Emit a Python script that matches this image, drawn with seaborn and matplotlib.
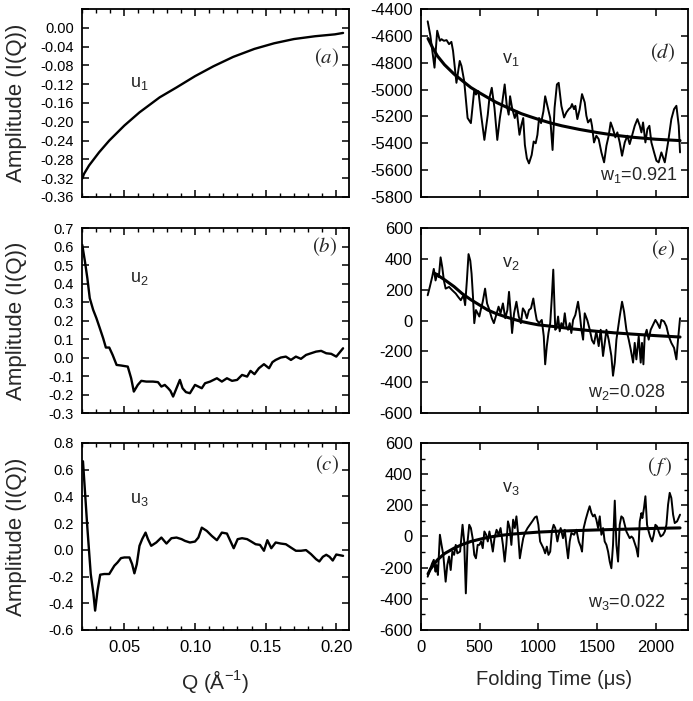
import matplotlib
matplotlib.use("Agg")
import matplotlib.pyplot as plt
import seaborn as sns
from matplotlib.ticker import MultipleLocator, FormatStrFormatter, FuncFormatter

# ---------------- data ----------------
# Left column: basis spectra vs Q
q_u1 = [0.0202, 0.0214, 0.0250, 0.0321, 0.0393, 0.0500, 0.0607, 0.0750, 0.0869, 0.1000,
        0.1130, 0.1270, 0.1420, 0.1560, 0.1700, 0.1850, 0.1990, 0.2048]
u1 = [-0.321, -0.311, -0.293, -0.265, -0.240, -0.208, -0.180, -0.148, -0.127, -0.103,
      -0.082, -0.062, -0.045, -0.033, -0.024, -0.018, -0.014, -0.011]

q_u2 = [0.0202, 0.0221, 0.0238, 0.0255, 0.0279, 0.0302, 0.0326, 0.0350, 0.0369, 0.0393,
        0.0417, 0.0445, 0.0476, 0.0524, 0.0548, 0.0567, 0.0595, 0.0620, 0.0655, 0.0702,
        0.0738, 0.0762, 0.0786, 0.0810, 0.0826, 0.0845, 0.0869, 0.0893, 0.0912, 0.0936,
        0.0964, 0.1000, 0.1024, 0.1048, 0.1071, 0.1107, 0.1155, 0.1190, 0.1226, 0.1262,
        0.1298, 0.1333, 0.1369, 0.1393, 0.1421, 0.1452, 0.1488, 0.1524, 0.1548, 0.1571,
        0.1607, 0.1643, 0.1679, 0.1714, 0.1750, 0.1786, 0.1821, 0.1857, 0.1893, 0.1929,
        0.1964, 0.2000, 0.2048]
u2 = [0.609, 0.519, 0.429, 0.321, 0.258, 0.213, 0.159, 0.104, 0.054, 0.054,
      0.014, -0.040, -0.043, -0.049, -0.112, -0.184, -0.148, -0.126, -0.130, -0.130,
      -0.133, -0.157, -0.148, -0.166, -0.180, -0.211, -0.166, -0.121, -0.166, -0.187,
      -0.193, -0.148, -0.157, -0.166, -0.139, -0.130, -0.112, -0.130, -0.112, -0.126,
      -0.121, -0.094, -0.103, -0.072, -0.090, -0.058, -0.036, -0.058, -0.025, -0.013,
      0.000, 0.005, -0.013, 0.005, -0.007, 0.014, 0.023, 0.032, 0.036, 0.023,
      0.020, 0.005, 0.050]

q_u3 = [0.0207, 0.0221, 0.0238, 0.0262, 0.0281, 0.0293, 0.0310, 0.0329, 0.0357, 0.0393,
        0.0429, 0.0452, 0.0476, 0.0500, 0.0536, 0.0555, 0.0571, 0.0588, 0.0607, 0.0626,
        0.0650, 0.0667, 0.0690, 0.0726, 0.0762, 0.0798, 0.0833, 0.0869, 0.0905, 0.0929,
        0.0964, 0.1000, 0.1024, 0.1048, 0.1083, 0.1119, 0.1155, 0.1190, 0.1226, 0.1250,
        0.1274, 0.1302, 0.1333, 0.1369, 0.1398, 0.1429, 0.1460, 0.1488, 0.1512, 0.1540,
        0.1571, 0.1607, 0.1643, 0.1679, 0.1714, 0.1750, 0.1786, 0.1821, 0.1857, 0.1880,
        0.1905, 0.1929, 0.1952, 0.1975, 0.2000, 0.2048]
u3 = [0.663, 0.440, 0.166, -0.181, -0.330, -0.455, -0.306, -0.186, -0.181, -0.181,
      -0.119, -0.094, -0.062, -0.057, -0.057, -0.107, -0.176, -0.107, 0.030, 0.080,
      0.129, 0.080, 0.030, 0.055, 0.092, 0.047, 0.087, 0.092, 0.080, 0.067,
      0.055, 0.062, 0.092, 0.166, 0.142, 0.104, 0.072, 0.129, 0.122, 0.067,
      0.012, 0.080, 0.087, 0.080, 0.062, 0.042, 0.037, -0.007, 0.072, 0.012,
      0.055, 0.047, 0.042, 0.017, -0.007, -0.007, -0.002, -0.032, -0.070, -0.087,
      -0.052, -0.037, -0.052, -0.080, -0.035, -0.045]

# Right column: amplitude vectors vs folding time (us)
t_v1 = [57, 80, 115, 138, 161, 175, 195, 218, 239, 259, 273, 302, 330, 345, 368, 397, 425,
        454, 468, 489, 512, 540, 569, 583, 603, 626, 650, 672, 690, 713, 730, 747, 759, 776,
        799, 816, 839, 856, 871, 885, 902, 920, 943, 960, 977, 992, 1006, 1023, 1043, 1058,
        1081, 1101, 1121, 1138, 1158, 1173, 1196, 1219, 1239, 1259, 1276, 1287, 1304, 1315,
        1332, 1352, 1372, 1395, 1409, 1423, 1446, 1457, 1474, 1494, 1514, 1537, 1560, 1580,
        1599, 1616, 1636, 1656, 1673, 1693, 1713, 1736, 1758, 1778, 1798, 1821, 1844, 1864,
        1878, 1892, 1912, 1929, 1946, 1963, 1986, 2006, 2025, 2048, 2077, 2105, 2133, 2156,
        2176, 2196, 2207]
v1 = [-4492, -4600, -4837, -4562, -4637, -4625, -4637, -4632, -4662, -4645, -4712, -4950,
      -4787, -4825, -4937, -5212, -5250, -5000, -5037, -5012, -5187, -5375, -5187, -5062,
      -4987, -5137, -5375, -5212, -5112, -4962, -5112, -5187, -5050, -5137, -5212, -5162,
      -5337, -5262, -5212, -5412, -5512, -5550, -5487, -5387, -5400, -5337, -5212, -5250,
      -5162, -5050, -5137, -5212, -5450, -5137, -4962, -4950, -5121, -5208, -5170, -5146,
      -5133, -5108, -5146, -5121, -5220, -5146, -5034, -5096, -5195, -5245, -5220, -5270,
      -5394, -5344, -5369, -5468, -5542, -5418, -5344, -5245, -5294, -5356, -5319, -5394,
      -5493, -5394, -5344, -5406, -5344, -5270, -5220, -5270, -5319, -5245, -5394, -5294,
      -5270, -5394, -5468, -5530, -5542, -5468, -5542, -5394, -5220, -5146, -5121, -5270,
      -5468]
t_fit1 = [60, 100, 140, 200, 282, 360, 425, 500, 569, 640, 713, 790, 856, 930, 1000, 1100,
          1200, 1350, 1500, 1650, 1800, 2000, 2207]
fit1 = [-4620, -4690, -4750, -4815, -4885, -4940, -4985, -5025, -5060, -5095, -5125, -5155,
        -5180, -5202, -5222, -5248, -5270, -5297, -5320, -5340, -5355, -5370, -5380]

t_v2 = [57, 75, 95, 109, 124, 138, 152, 167, 181, 195, 210, 239, 267, 296, 316, 339, 362,
        376, 391, 405, 420, 431, 443, 454, 468, 483, 497, 512, 526, 546, 563, 583, 603, 621,
        641, 661, 678, 698, 718, 736, 750, 764, 776, 793, 813, 833, 851, 868, 885, 902, 920,
        937, 957, 971, 986, 1006, 1029, 1046, 1058, 1072, 1086, 1101, 1115, 1127, 1144, 1154,
        1168, 1182, 1196, 1210, 1225, 1239, 1253, 1267, 1281, 1296, 1315, 1338, 1352, 1367,
        1381, 1395, 1418, 1438, 1457, 1474, 1494, 1514, 1531, 1551, 1580, 1599, 1622, 1636,
        1651, 1665, 1693, 1713, 1730, 1750, 1770, 1787, 1807, 1821, 1835, 1855, 1872, 1883,
        1895, 1906, 1923, 1940, 1957, 1977, 1997, 2014, 2034, 2048, 2071, 2091, 2111, 2133,
        2156, 2176, 2190, 2207]
v2 = [164, 218, 282, 335, 260, 303, 282, 410, 346, 260, 207, 218, 196, 175, 154, 132, 164,
      100, 260, 431, 388, 303, 154, -17, 68, 47, 26, 79, 122, 207, 111, 68, 15, -17,
      36, 90, 47, 111, 15, 68, 186, 47, -81, 47, 122, 26, -17, 79, 58, 15, 68,
      79, 143, 68, 4, -17, 4, -102, -284, -166, -81, -17, 154, 330, -60, -49,
      26, -70, -17, -49, 47, -38, -60, -17, -81, 4, 36, 122, 47, -60,
      -124, 47, 0, -60, -128, -150, -70, -166, -60, -230, -60, -124, -230, -358,
      -273, -124, 26, 122, 58, -60, -124, -188, -273, -145, -252, -102, -273, -145,
      -284, -102, -60, -124, -60, -28, 4, -17, -49, 4, -6, -38, -102, -145,
      -177, -252, -124, 15]
t_fit2 = [120, 200, 282, 350, 425, 500, 569, 640, 713, 790, 856, 930, 1000, 1144, 1300,
          1500, 1650, 1800, 2000, 2207]
fit2 = [305, 265, 220, 175, 135, 100, 68, 45, 26, 8, -6, -18, -28, -40, -55, -70, -80, -88,
        -98, -107]

t_v3 = [57, 80, 95, 109, 124, 132, 144, 161, 175, 190, 210, 224, 239, 253, 267, 282, 296,
        310, 333, 354, 368, 382, 397, 411, 425, 440, 454, 468, 483, 497, 512, 526, 540, 555,
        569, 583, 598, 612, 626, 644, 661, 678, 698, 713, 727, 741, 756, 770, 785, 799, 813,
        828, 842, 856, 871, 885, 908, 928, 948, 971, 986, 1000, 1015, 1029, 1043, 1058, 1072,
        1086, 1101, 1115, 1130, 1144, 1162, 1173, 1190, 1210, 1225, 1239, 1253, 1267, 1281,
        1304, 1324, 1344, 1361, 1372, 1386, 1403, 1423, 1437, 1452, 1466, 1480, 1494, 1509,
        1523, 1537, 1551, 1565, 1580, 1594, 1608, 1622, 1636, 1651, 1665, 1679, 1693, 1707,
        1722, 1736, 1750, 1764, 1778, 1793, 1807, 1821, 1835, 1849, 1864, 1878, 1886, 1900,
        1912, 1926, 1940, 1952, 1969, 1983, 1997, 2011, 2025, 2042, 2062, 2077, 2091, 2105,
        2119, 2133, 2148, 2162, 2182, 2207]
v3 = [-258, -204, -172, -150, -226, -183, -247, 11, -54, -118, -290, -183, -129, -215, -97,
      -118, -54, -108, -97, 75, -32, -365, -32, 75, 54, -11, -118, -140, -54, -54, -32, -75,
      32, 11, -32, 32, -32, -97, -11, 43, 11, 54, -54, -161, -54, 97, 54, -54, 108, 54, 129,
      11, -140, -75, -11, 22, 54, 75, 97, 123, 129, 75, -32, -54, -75, -108, -65, -118, -97,
      32, 75, 54, -32, 11, 54, -11, 43, -54, -140, -32, 22, 11, 43, -32, -65, -97, 54, 108,
      161, 194, 151, 129, 140, 108, 54, 129, 11, 54, -32, -54, -97, -161, -204, -54, 230,
      -54, -161, 75, 129, 118, 75, 32, 11, -11, 0, -11, -43, -75, -129, 97, 150, 118, 183,
      258, 75, 32, 0, -32, 11, 75, 65, 32, 0, 11, 32, 75, 204, 280, 247, 140, 86, 97, 140]
t_fit3 = [60, 80, 140, 200, 282, 350, 425, 500, 569, 640, 713, 790, 856, 930, 1000, 1200,
          1500, 1800, 2000, 2207]
fit3 = [-240, -210, -150, -110, -75, -52, -32, -18, -6, 3, 10, 16, 20, 24, 28, 35, 42, 48,
        52, 55]

left_ylims = [(-0.36, 0.04), (-0.3, 0.7), (-0.6, 0.8)]
left_ystep = [0.04, 0.1, 0.2]
left_yfmt = ["%.2f", "%.1f", "%.1f"]
left_ylabel_max = [0.0, 0.7, 0.8]
right_ylims = [(-5800, -4400), (-600, 600), (-600, 600)]
curve_names = ["u", "v"]
weights = ["0.921", "0.028", "0.022"]
panel_letters = [["a", "b", "c"], ["d", "e", "f"]]

# ---------------- style ----------------
sns.set_theme(style="ticks")
plt.rcParams['font.family'] = ['Liberation Sans', 'DejaVu Sans']
plt.rcParams['axes.unicode_minus'] = False
plt.rcParams['axes.linewidth'] = 1.3
plt.rcParams['xtick.direction'] = 'in'
plt.rcParams['ytick.direction'] = 'in'
plt.rcParams['xtick.top'] = True
plt.rcParams['ytick.right'] = True
plt.rcParams['xtick.major.size'] = 5
plt.rcParams['ytick.major.size'] = 5
plt.rcParams['xtick.minor.size'] = 2.8
plt.rcParams['ytick.minor.size'] = 2.8
plt.rcParams['xtick.major.width'] = 1.1
plt.rcParams['ytick.major.width'] = 1.1
plt.rcParams['xtick.minor.width'] = 1.0
plt.rcParams['ytick.minor.width'] = 1.0
plt.rcParams['xtick.color'] = 'black'
plt.rcParams['ytick.color'] = 'black'
plt.rcParams['axes.edgecolor'] = 'black'

fig = plt.figure(figsize=(6.93, 7.01), dpi=100)

left_x, right_x, width = 0.1183, 0.6075, 0.3853
rows = [(0.7190, 0.2682), (0.4108, 0.2639), (0.1013, 0.2668)]

left_data = [(q_u1, u1), (q_u2, u2), (q_u3, u3)]
right_data = [(t_v1, v1, t_fit1, fit1), (t_v2, v2, t_fit2, fit2), (t_v3, v3, t_fit3, fit3)]

# text placements (axes fractions)
u_pos = [(0.18, 0.585), (0.18, 0.708), (0.18, 0.679)]
lp_left = [(0.918, 0.74), (0.91, 0.897), (0.918, 0.882)]
v_pos = [(0.303, 0.713), (0.303, 0.789), (0.303, 0.738)]
lp_right = [(0.906, 0.766), (0.906, 0.881), (0.895, 0.872)]
w_pos = [(0.959, 0.09), (0.914, 0.086), (0.914, 0.123)]


def make_fmt(fmt, vmax):
    def f(val, pos):
        if val > vmax + 1e-9:
            return ""
        return fmt % val
    return FuncFormatter(f)


for i in range(3):
    bottom, height = rows[i]
    # ---- left panel ----
    ax = fig.add_axes([left_x, bottom, width, height])
    qx, uy = left_data[i]
    sns.lineplot(x=qx, y=uy, ax=ax, color='black', linewidth=1.7, sort=False)
    ax.set_xlim(0.02, 0.209)
    ax.set_ylim(*left_ylims[i])
    ax.xaxis.set_major_locator(MultipleLocator(0.05))
    ax.xaxis.set_minor_locator(MultipleLocator(0.01))
    ax.yaxis.set_major_locator(MultipleLocator(left_ystep[i]))
    ax.yaxis.set_major_formatter(make_fmt(left_yfmt[i], left_ylabel_max[i]))
    ax.xaxis.set_major_formatter(FormatStrFormatter("%.2f"))
    ax.tick_params(axis='y', which='both', labelsize=10.5, pad=6)
    ax.tick_params(axis='x', which='both', labelsize=12, pad=7)
    ax.set_ylabel("Amplitude (I(Q))", fontsize=16)
    ax.yaxis.set_label_coords(-0.205, 0.5)
    if i < 2:
        ax.tick_params(axis='x', labelbottom=False)
        ax.set_xlabel("")
    else:
        ax.set_xlabel(r"Q (Å$^{\mathregular{-1}}$)", fontsize=15)
        ax.xaxis.set_label_coords(0.5, -0.205)
    ax.text(u_pos[i][0], u_pos[i][1], r"%s$_\mathregular{%d}$" % (curve_names[0], i + 1),
            transform=ax.transAxes, fontsize=13, va='baseline', ha='left')
    lbl = panel_letters[0][i]
    ax.text(lp_left[i][0], lp_left[i][1], r"$(%s)$" % lbl, transform=ax.transAxes,
            fontsize=15, ha='center', va='center', math_fontfamily='stix')

    # ---- right panel ----
    ax2 = fig.add_axes([right_x, bottom, width, height])
    tx, vy, tf, vf = right_data[i]
    sns.lineplot(x=tx, y=vy, ax=ax2, color='black', linewidth=1.4, sort=False)
    sns.lineplot(x=tf, y=vf, ax=ax2, color='black', linewidth=2.2, sort=False)
    ax2.set_xlim(0, 2275)
    ax2.set_ylim(*right_ylims[i])
    ax2.xaxis.set_major_locator(MultipleLocator(500))
    ax2.yaxis.set_major_locator(MultipleLocator(200))
    if i == 2:
        ax2.yaxis.set_minor_locator(MultipleLocator(100))
    ax2.tick_params(axis='y', which='both', labelsize=12, pad=6)
    ax2.tick_params(axis='x', which='both', labelsize=12, pad=7)
    ax2.set_ylabel("")
    if i < 2:
        ax2.tick_params(axis='x', labelbottom=False)
        ax2.set_xlabel("")
    else:
        ax2.set_xlabel("Folding Time (μs)", fontsize=14.5)
        ax2.xaxis.set_label_coords(0.5, -0.215)
    ax2.text(v_pos[i][0], v_pos[i][1], r"%s$_\mathregular{%d}$" % (curve_names[1], i + 1),
             transform=ax2.transAxes, fontsize=13, va='baseline', ha='left')
    ax2.text(w_pos[i][0], w_pos[i][1], r"w$_\mathregular{%d}$=%s" % (i + 1, weights[i]),
             transform=ax2.transAxes, fontsize=13, va='baseline', ha='right')
    lbl = panel_letters[1][i]
    txt = r"$(\,f\,)$" if lbl == "f" else r"$(%s)$" % lbl
    ax2.text(lp_right[i][0], lp_right[i][1], txt, transform=ax2.transAxes,
             fontsize=15, ha='center', va='center', math_fontfamily='stix')

fig.savefig("out.png", dpi=100)
